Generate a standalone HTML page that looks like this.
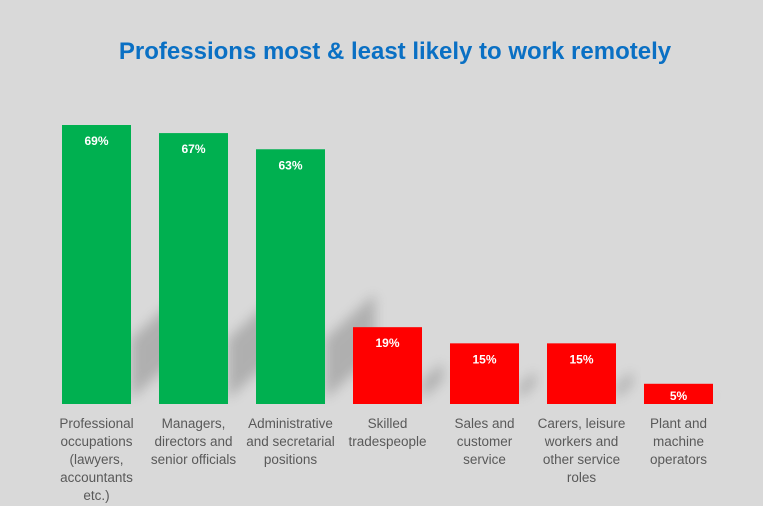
<!DOCTYPE html>
<html><head><meta charset="utf-8"><style>
body{margin:0;background:#d9d9d9;}
svg{display:block;font-family:"Liberation Sans",Arial,sans-serif;}
</style></head><body>
<svg id="chart" width="763" height="506" viewBox="0 0 763 506">
<defs><filter id="blur" x="-50%" y="-50%" width="200%" height="200%"><feGaussianBlur stdDeviation="6"/></filter></defs>
<rect width="763" height="506" fill="#d9d9d9"/>
<text x="395" y="59" text-anchor="middle" font-size="24" font-weight="bold" fill="#0a70c4">Professions most &amp; least likely to work remotely</text>
<g id="shadows"></g><g id="bars"></g><g id="labels"></g>
</svg>
<script>
const categories=[["Professional","occupations","(lawyers,","accountants","etc.)"],["Managers,","directors and","senior officials"],["Administrative","and secretarial","positions"],["Skilled","tradespeople"],["Sales and","customer","service"],["Carers, leisure","workers and","other service","roles"],["Plant and","machine","operators"]];
const values=[69,67,63,19,15,15,5];
const colors=["#00b050","#00b050","#00b050","#ff0000","#ff0000","#ff0000","#ff0000"];
const NS="http://www.w3.org/2000/svg";
const base=404,scale=279/69,x0=62,step=97,bw=69;
const yOf=v=>base-v*scale, xOf=i=>x0+i*step;
const sg=document.getElementById('shadows'),bg=document.getElementById('bars'),lg=document.getElementById('labels');
values.forEach((v,i)=>{
 const x=xOf(i),y=yOf(v),h=base-y;
 const sh=Math.min(h*0.3,65);
 const dx=Math.min(sh*0.9,50);
 const p=document.createElementNS(NS,'polygon');
 p.setAttribute('points',`${x+bw},${base-5} ${x+bw},${base-sh} ${x+bw+dx},${base-sh-dx*0.9} ${x+bw+dx},${base-dx*0.9-5}`);
 p.setAttribute('fill','#a8a8a8');p.setAttribute('opacity','0.85');p.setAttribute('filter','url(#blur)');
 
 
 sg.appendChild(p);
 const r=document.createElementNS(NS,'rect');
 r.setAttribute('x',x);r.setAttribute('y',y);r.setAttribute('width',bw);r.setAttribute('height',h);r.setAttribute('fill',colors[i]);
 
 
 bg.appendChild(r);
 const t=document.createElementNS(NS,'text');
 t.setAttribute('x',x+bw/2);t.setAttribute('y',Math.min(y+20,base-4));t.setAttribute('text-anchor','middle');t.setAttribute('fill','#fff');t.setAttribute('font-size','12');t.setAttribute('font-weight','bold');
 t.textContent=v+'%';
 
 
 bg.appendChild(t);
 const c=document.createElementNS(NS,'text');
 c.setAttribute('text-anchor','middle');c.setAttribute('fill','#595959');c.setAttribute('font-size','13.5');
 
 
 categories[i].forEach((line,j)=>{const s=document.createElementNS(NS,'tspan');s.setAttribute('x',x+bw/2);s.setAttribute('y',428+j*18);s.textContent=line;c.appendChild(s);});
 lg.appendChild(c);
});
</script>
</body></html>
